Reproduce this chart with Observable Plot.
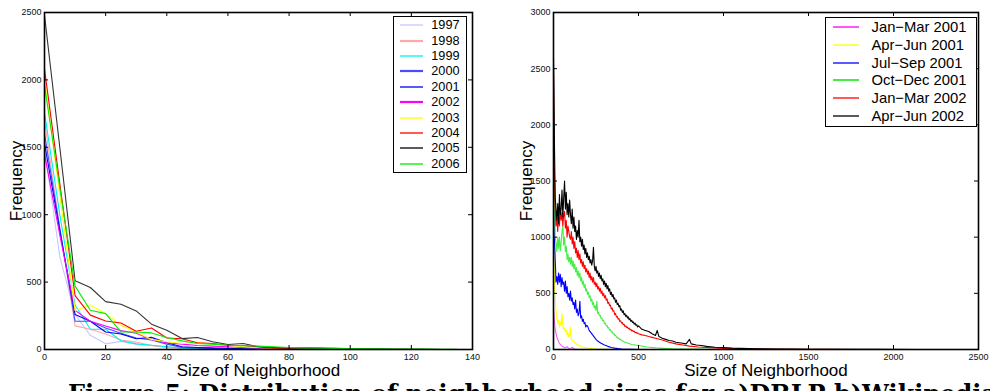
<!DOCTYPE html>
<html>
<head>
<meta charset="utf-8">
<script src="https://cdn.jsdelivr.net/npm/d3@7"></script>
<script src="https://cdn.jsdelivr.net/npm/@observablehq/plot@0.6"></script>
<style>
  body { margin: 0; background: #fff; }
  #wrap { position: relative; width: 990px; height: 391px; overflow: hidden; background: #fff; font-family: "Liberation Sans", Arial, sans-serif; }
  .panel { position: absolute; top: 0; }
  .legend { position: absolute; background: #fff; border: 1.5px solid #000; box-sizing: border-box; color: #000; }
  .row { display: flex; align-items: center; }
  .sw { flex: none; }
  #cap { position: absolute; left: 68px; top: 382px; white-space: nowrap; font-family: "DejaVu Serif", "Liberation Serif", serif; font-weight: bold; font-size: 24px; line-height: 1; color: #000; }
</style>
</head>
<body>
<div id="wrap">
  <div id="left" class="panel" style="left:0"></div>
  <div id="right" class="panel" style="left:490px"></div>
  <div id="legL" class="legend"></div>
  <div id="legR" class="legend"></div>
  <div id="cap"></div>
</div>
<script>
// ---------- Panel a) DBLP ----------
const leftX = [0,5,10,15,20,25,30,35,40,45,50,55,60,65,70,75,80,85,90,95,100,105,110,115,120,125,130,135];
const leftSeries = ["1997","1998","1999","2000","2001","2002","2003","2004","2005","2006"];
const y1997 = [1500,690,260,105,42,60,40,30,20,12,8,5,3,2,1,0];
const y1998 = [1700,900,175,150,115,70,55,30,15,10,8,12,10,5,3,2,1,0];
const y1999 = [1760,1000,330,150,150,65,42,32,20,10,8,5,3,2,0];
const y2000 = [1600,900,210,210,160,120,85,70,40,15,12,10,6,4,2,0];
const y2001 = [1530,880,260,210,130,115,80,90,50,20,15,10,8,6,3,2,0];
const y2002 = [1450,850,290,210,175,140,120,75,50,40,30,25,20,15,10,8,5,3,2,0];
const y2003 = [2000,1150,290,330,265,180,130,75,57,44,52,40,30,20,15,10,8,6,4,3,2,1,0];
const y2004 = [2080,1230,400,255,212,197,136,160,85,80,50,44,32,30,20,10,8,12,10,8,6,4,3,2,1,0];
const y2005 = [2480,1500,510,460,355,336,286,188,143,81,89,57,37,44,20,15,12,10,8,6,5,4,3,2,1,1,0];
const y2006 = [1960,1200,470,291,266,130,130,123,89,64,44,40,32,28,25,20,15,12,10,8,7,6,5,4,3,3,2,2];
const leftXTicks = [0,20,40,60,80,100,120,140];
const leftYTicks = [0,500,1000,1500,2000,2500];
const leftColors = ["#c8c8ff","#ffa8a8","#00f0f0","#4b4bff","#0000ee","#ff00ff","#ffff00","#ff0000","#333333","#00ee00"];

// ---------- Panel b) Wikipedia : [size, frequency] ----------
const rightSeries = ["Jan\u2212Mar 2001","Apr\u2212Jun 2001","Jul\u2212Sep 2001","Oct\u2212Dec 2001","Jan\u2212Mar 2002","Apr\u2212Jun 2002"];
const janMar01 = [[0,360],[3,300],[5,250],[10,180],[15,140],[20,110],[25,90],[30,70],[35,55],[40,45],[50,30],[60,20],[70,15],[80,25],[90,10],[100,8],[110,20],[120,5],[140,2],[160,0]];
const aprJun01 = [[0,1000],[3,800],[5,600],[10,480],[15,330],[20,280],[25,230],[30,260],[35,200],[40,240],[45,220],[50,320],[55,210],[60,180],[65,190],[70,160],[75,170],[80,130],[85,150],[90,110],[95,120],[100,200],[105,90],[110,80],[120,70],[130,55],[140,45],[150,35],[170,22],[200,12],[250,5],[300,2],[350,0]];
const julSep01 = [[0,1800],[5,1000],[10,800],[15,600],[20,650],[25,580],[30,680],[35,600],[40,670],[45,560],[50,640],[55,580],[60,600],[65,520],[70,610],[75,500],[80,560],[85,470],[90,500],[95,440],[100,520],[105,430],[110,460],[115,400],[120,420],[125,360],[130,440],[135,330],[140,360],[145,300],[150,320],[155,430],[160,280],[165,300],[170,250],[175,270],[180,230],[185,240],[190,200],[195,215],[200,210],[210,170],[220,150],[230,130],[240,110],[250,90],[260,75],[270,65],[280,55],[300,40],[320,28],[340,18],[360,12],[380,8],[400,5],[450,2],[500,0]];
const octDec01 = [[0,2100],[5,1400],[10,1000],[15,950],[20,870],[25,1000],[30,900],[35,1000],[40,880],[45,950],[50,1050],[55,1100],[60,930],[65,1000],[70,870],[75,920],[80,800],[85,850],[90,780],[95,820],[100,760],[105,820],[110,740],[115,790],[120,720],[125,760],[130,690],[135,730],[140,660],[145,700],[150,640],[155,680],[160,610],[165,640],[170,580],[175,610],[180,550],[185,580],[190,520],[195,540],[200,490],[205,510],[210,460],[215,480],[220,430],[225,450],[230,400],[235,420],[240,370],[245,390],[250,345],[255,430],[260,320],[265,330],[270,300],[275,305],[280,275],[285,280],[290,255],[295,260],[300,230],[305,235],[310,210],[315,215],[320,190],[325,195],[330,172],[335,178],[340,155],[345,160],[350,140],[355,143],[360,125],[365,128],[370,110],[375,112],[380,98],[385,100],[390,88],[395,90],[400,80],[420,65],[440,55],[460,45],[480,40],[500,35],[550,22],[600,15],[650,10],[700,6],[800,3],[900,1],[1000,0]];
const janMar02 = [[0,2500],[5,1600],[10,1250],[15,1100],[20,1180],[25,1050],[30,1200],[35,1100],[40,1250],[45,1150],[50,1220],[55,1100],[60,1200],[65,1230],[70,1080],[75,1150],[80,1000],[85,1100],[90,1050],[95,1000],[100,980],[105,1050],[110,940],[115,1000],[120,900],[125,960],[130,860],[135,900],[140,820],[145,880],[150,800],[155,850],[160,770],[165,800],[170,740],[175,780],[180,720],[185,750],[190,690],[195,720],[200,670],[205,700],[210,640],[215,680],[220,620],[225,650],[230,600],[235,640],[240,580],[245,600],[250,560],[255,590],[260,540],[265,560],[270,520],[275,545],[280,500],[285,520],[290,480],[295,500],[300,460],[305,480],[310,440],[315,450],[320,410],[325,420],[330,390],[335,395],[340,360],[345,370],[350,340],[355,345],[360,310],[365,320],[370,290],[375,295],[380,270],[385,275],[390,250],[395,255],[400,235],[405,240],[410,220],[415,225],[420,205],[425,210],[430,195],[435,200],[440,185],[445,190],[450,175],[455,180],[460,165],[465,170],[470,160],[475,162],[480,150],[485,155],[490,145],[495,148],[500,140],[520,130],[540,125],[560,115],[580,108],[600,100],[640,85],[680,65],[720,50],[760,40],[800,30],[850,22],[900,18],[1000,10],[1100,7],[1200,4],[1400,2],[1600,1],[1800,0]];
const aprJun02 = [[0,2600],[5,1900],[10,1350],[15,1250],[20,1150],[25,1300],[30,1120],[35,1380],[40,1200],[45,1250],[50,1420],[55,1180],[60,1350],[65,1500],[70,1250],[75,1400],[80,1200],[85,1300],[90,1180],[95,1330],[100,1200],[105,1120],[110,1250],[115,1080],[120,1180],[125,1050],[130,1100],[135,980],[140,1060],[145,1000],[150,1150],[155,960],[160,1000],[165,920],[170,980],[175,890],[180,930],[185,850],[190,900],[195,820],[200,860],[205,800],[210,830],[215,770],[220,800],[225,750],[230,790],[235,910],[240,740],[245,700],[250,740],[255,680],[260,700],[265,650],[270,680],[275,630],[280,660],[285,610],[290,630],[295,580],[300,610],[305,560],[310,590],[315,540],[320,570],[325,520],[330,540],[335,490],[340,510],[345,470],[350,490],[355,450],[360,460],[365,420],[370,440],[375,400],[380,410],[385,380],[390,390],[395,350],[400,360],[405,330],[410,345],[415,310],[420,320],[425,295],[430,305],[435,280],[440,290],[445,265],[450,275],[455,250],[460,260],[465,240],[470,245],[475,225],[480,235],[485,215],[490,220],[495,200],[500,210],[520,180],[540,170],[560,160],[580,140],[600,125],[610,170],[620,115],[640,100],[660,90],[680,80],[700,75],[720,65],[740,60],[760,55],[780,50],[800,90],[810,50],[840,40],[870,35],[900,28],[950,20],[1000,18],[1050,12],[1100,10],[1200,6],[1300,4],[1400,3],[1500,2],[1700,1],[1900,1],[2150,0]];
const rightXTicks = [0,500,1000,1500,2000,2500];
const rightYTicks = [0,500,1000,1500,2000,2500,3000];
const rightColors = ["#ff55ff","#ffff00","#0000ff","#44ee44","#ff0000","#000000"];

const caption = "Figure 5: Distribution of neighborhood sizes for a)DBLP b)Wikipedia";

// ---------- build tables ----------
const leftYs = [y1997,y1998,y1999,y2000,y2001,y2002,y2003,y2004,y2005,y2006];
const leftData = leftSeries.flatMap((s, i) => leftYs[i].map((v, j) => ({series: s, x: leftX[j], y: v})));
const rightSets = [janMar01, aprJun01, julSep01, octDec01, janMar02, aprJun02];
const rightData = rightSeries.flatMap((s, i) => rightSets[i].map(([x, y]) => ({series: s, x, y})));

function panel({data, series, colors, xDomain, yDomain, xTicks, yTicks, width, marginLeft, marginRight, labelDx}) {
  const height = 383, marginTop = 12, marginBottom = 34;
  const H = height - marginTop - marginBottom;
  const W = width - marginLeft - marginRight;
  const tk = 4;
  return Plot.plot({
    width, height, marginLeft, marginRight, marginTop, marginBottom,
    x: {domain: xDomain},
    y: {domain: yDomain},
    color: {domain: series, range: colors},
    style: {fontFamily: "'Liberation Sans', Arial, sans-serif", fontSize: "9px", color: "#111", background: "white", overflow: "visible"},
    marks: [
      Plot.line(data, {x: "x", y: "y", z: "series", stroke: "series", strokeWidth: 1.1}),
      Plot.ruleX(xTicks, {x: d => d, insetTop: H - tk, stroke: "#000"}),
      Plot.ruleX(xTicks, {x: d => d, insetBottom: H - tk, stroke: "#000"}),
      Plot.ruleY(yTicks, {y: d => d, insetRight: W - tk, stroke: "#000"}),
      Plot.ruleY(yTicks, {y: d => d, insetLeft: W - tk, stroke: "#000"}),
      Plot.frame({stroke: "#000", strokeWidth: 1.6}),
      Plot.axisX({ticks: xTicks, tickSize: 0, tickPadding: 4, tickFormat: "d", label: null}),
      Plot.axisY({ticks: yTicks, tickSize: 0, tickPadding: 3, tickFormat: "d", label: null}),
      Plot.text(["Size of Neighborhood"], {frameAnchor: "bottom", dy: 26.5, text: d => d, fontSize: 17, fill: "#000"}),
      Plot.text(["Frequency"], {frameAnchor: "left", textAnchor: "middle", dx: labelDx, rotate: -90, text: d => d, fontSize: 17, fill: "#000"})
    ]
  });
}

document.getElementById("left").append(panel({
  data: leftData, series: leftSeries, colors: leftColors,
  xDomain: [0, 140], yDomain: [0, 2500], xTicks: leftXTicks, yTicks: leftYTicks,
  width: 490, marginLeft: 44, marginRight: 18, labelDx: -28
}));
document.getElementById("right").append(panel({
  data: rightData, series: rightSeries, colors: rightColors,
  xDomain: [0, 2500], yDomain: [0, 3000], xTicks: rightXTicks, yTicks: rightYTicks,
  width: 500, marginLeft: 63, marginRight: 12, labelDx: -27
}));

// ---------- legends ----------
function legend(el, names, colors, o) {
  Object.assign(el.style, {left: o.left + "px", top: o.top + "px", width: o.width + "px", height: o.height + "px", paddingTop: o.padTop + "px", fontSize: o.fontSize + "px"});
  names.forEach((n, i) => {
    const row = document.createElement("div");
    row.className = "row";
    row.style.height = o.rowH + "px";
    const sw = document.createElementNS("http://www.w3.org/2000/svg", "svg");
    sw.setAttribute("width", o.swW); sw.setAttribute("height", 6);
    sw.classList.add("sw");
    sw.style.marginLeft = o.swLeft + "px";
    const ln = document.createElementNS("http://www.w3.org/2000/svg", "line");
    ln.setAttribute("x1", 0); ln.setAttribute("x2", o.swW); ln.setAttribute("y1", 3); ln.setAttribute("y2", 3);
    ln.setAttribute("stroke", colors[i]); ln.setAttribute("stroke-width", o.sww ? o.sww[i] : 1.3);
    sw.append(ln);
    const t = document.createElement("span");
    t.textContent = n;
    if (o.alignRight) { t.style.marginLeft = "auto"; t.style.marginRight = o.padRight + "px"; }
    else t.style.marginLeft = o.gap + "px";
    row.append(sw, t);
    el.append(row);
  });
}
legend(document.getElementById("legL"), leftSeries, leftColors, {left: 393, top: 16, width: 74, height: 157, padTop: 0.5, rowH: 15.4, fontSize: 12.7, swW: 23, swLeft: 5.5, alignRight: true, padRight: 6.5, sww: [1.3,2.2,1.3,2.2,1.3,2.2,1.3,1.3,1.6,1.3]});
legend(document.getElementById("legR"), rightSeries, rightColors, {left: 825, top: 17, width: 152, height: 110, padTop: 0.35, rowH: 17.7, fontSize: 14.8, swW: 26, swLeft: 6.5, gap: 13, sww: [2,1.3,1.3,2,1.3,1.3]});

document.getElementById("cap").textContent = caption;
</script>
</body>
</html>
